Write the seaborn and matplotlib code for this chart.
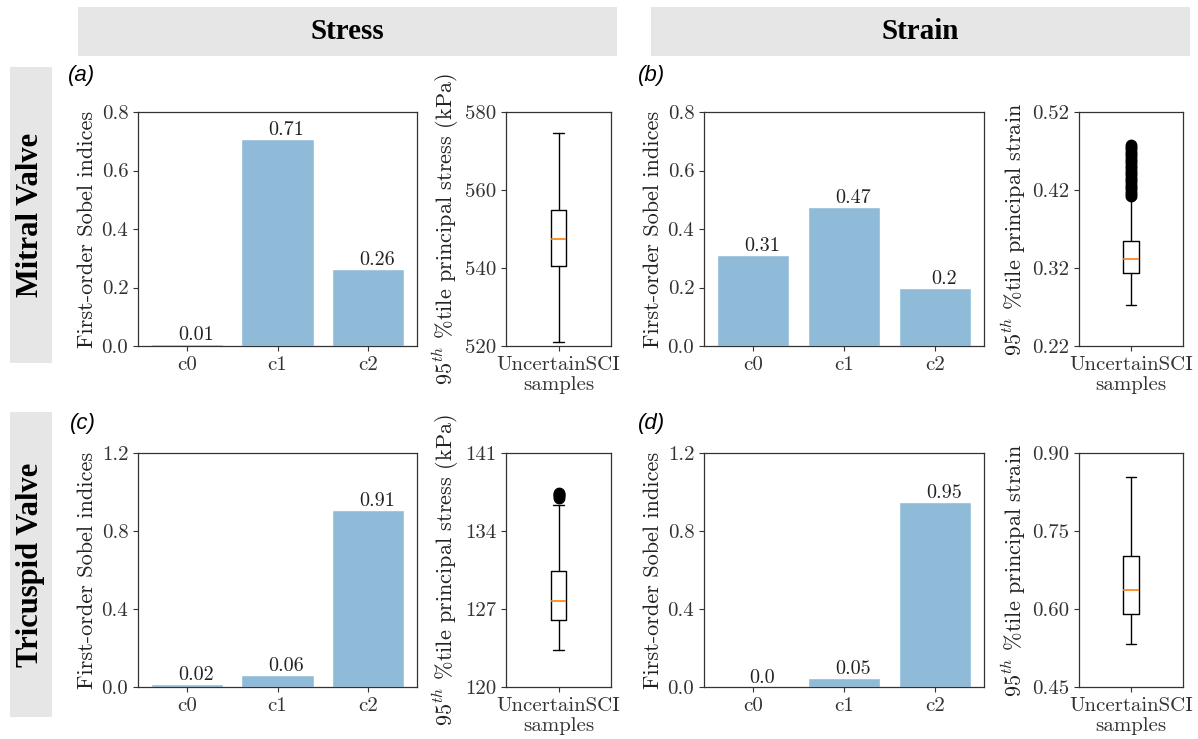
import matplotlib
matplotlib.use("Agg")
import matplotlib.pyplot as plt
import seaborn as sns
from matplotlib.patches import Rectangle
from matplotlib.ticker import FormatStrFormatter

# ---------------- data ----------------
components = ["c0", "c1", "c2"]
sobel_mitral_stress = [0.007, 0.706, 0.263]
sobel_mitral_strain = [0.311, 0.474, 0.198]
sobel_tricuspid_stress = [0.017, 0.061, 0.907]
sobel_tricuspid_strain = [0.001, 0.046, 0.951]

# box statistics: lower whisker, Q1, median, Q3, upper whisker
box_mitral_stress = [521.0, 540.5, 547.5, 555.0, 574.5]
box_mitral_strain = [0.272, 0.313, 0.332, 0.355, 0.410]
box_tricuspid_stress = [123.3, 126.0, 127.7, 130.4, 136.3]
box_tricuspid_strain = [0.533, 0.591, 0.637, 0.701, 0.854]

fliers_mitral_stress = []
fliers_mitral_strain = [0.412, 0.415, 0.418, 0.421, 0.424, 0.427, 0.430, 0.433,
                        0.436, 0.439, 0.442, 0.445, 0.448, 0.451, 0.454, 0.457,
                        0.460, 0.463, 0.466, 0.469, 0.472, 0.475, 0.478]
fliers_tricuspid_stress = [137.0, 137.1, 137.2, 137.3, 137.4]
fliers_tricuspid_strain = []

bar_yticks_row1 = [0.0, 0.2, 0.4, 0.6, 0.8]
bar_yticks_row2 = [0.0, 0.4, 0.8, 1.2]
yt_mitral_stress = [520, 540, 560, 580]
yt_mitral_strain = [0.22, 0.32, 0.42, 0.52]
yt_tricuspid_stress = [120, 127, 134, 141]
yt_tricuspid_strain = [0.45, 0.60, 0.75, 0.90]

col_titles = ["Stress", "Strain"]
row_titles = ["Mitral Valve", "Tricuspid Valve"]
panel_letters = ["a", "b", "c", "d"]
box_xlabel = "UncertainSCI\nsamples"
stress_label = r"$95^{th}$ %tile principal stress (kPa)"
strain_label = r"$95^{th}$ %tile principal strain"
bar_ylabel = "First-order Sobel indices"

# ---------------- style ----------------
sns.set_style("ticks")
plt.rcParams["font.family"] = ["cmr10", "DejaVu Serif"]
plt.rcParams["mathtext.fontset"] = "cm"
plt.rcParams["axes.formatter.use_mathtext"] = True
plt.rcParams["axes.edgecolor"] = "#333333"
plt.rcParams["axes.linewidth"] = 0.9
plt.rcParams["xtick.color"] = "#333333"
plt.rcParams["ytick.color"] = "#333333"
plt.rcParams["text.color"] = "#222222"
plt.rcParams["axes.labelcolor"] = "#222222"

W, H = 1198, 739
fig = plt.figure(figsize=(W / 100, H / 100), dpi=100)
fig.patch.set_facecolor("white")

def fx(px):
    return px / W

def fy(py):
    return 1 - py / H

BAR_COLOR = "#8fbbd9"
TICK_FS = 15
LAB_FS = 16

def rect_axes(x0, y0, x1, y1):
    return fig.add_axes([fx(x0), fy(y1), fx(x1) - fx(x0), fy(y0) - fy(y1)])

def bar_panel(ax, values, yticks):
    sns.barplot(x=components, y=values, color=BAR_COLOR, saturation=1,
                width=0.8, ax=ax)
    for i, v in enumerate(values):
        ax.text(i + 0.1, v, str(round(v, 2)), ha="center", va="bottom",
                fontsize=14.5)
    ax.set_xlim(-0.54, 2.54)
    ax.set_ylim(yticks[0], yticks[-1])
    ax.set_yticks(yticks)
    ax.yaxis.set_major_formatter(FormatStrFormatter("%.1f"))
    ax.set_ylabel(bar_ylabel, fontsize=LAB_FS, labelpad=3)
    ax.tick_params(labelsize=TICK_FS)
    for s in ax.spines.values():
        s.set_visible(True)

def box_panel(ax, stats5, fliers, yticks, ylabel, fmt):
    st = dict(whislo=stats5[0], q1=stats5[1], med=stats5[2], q3=stats5[3],
              whishi=stats5[4], fliers=fliers, label=box_xlabel)
    ax.bxp([st], positions=[1], widths=0.15, capwidths=0.1,
           boxprops=dict(color="black", linewidth=1),
           whiskerprops=dict(color="black", linewidth=1),
           capprops=dict(color="black", linewidth=1),
           medianprops=dict(color="#ff7f0e", linewidth=1.2),
           flierprops=dict(marker="o", markerfacecolor="black",
                           markeredgecolor="black", markersize=7.5))
    ax.set_xlim(0.5, 1.5)
    ax.set_ylim(yticks[0], yticks[-1])
    ax.set_yticks(yticks)
    ax.yaxis.set_major_formatter(FormatStrFormatter(fmt))
    ax.set_ylabel(ylabel, fontsize=LAB_FS, labelpad=3)
    ax.tick_params(labelsize=TICK_FS)
    for s in ax.spines.values():
        s.set_visible(True)

# axes positions (pixels)
rows_y = [(112, 346), (453, 687)]
bar_x = [(138, 417), (704, 984)]
box_x = [(506, 611), (1079, 1183)]

sobel = [[sobel_mitral_stress, sobel_mitral_strain],
         [sobel_tricuspid_stress, sobel_tricuspid_strain]]
bar_ticks = [bar_yticks_row1, bar_yticks_row2]
boxes = [[box_mitral_stress, box_mitral_strain],
         [box_tricuspid_stress, box_tricuspid_strain]]
fliers = [[fliers_mitral_stress, fliers_mitral_strain],
          [fliers_tricuspid_stress, fliers_tricuspid_strain]]
box_ticks = [[yt_mitral_stress, yt_mitral_strain],
             [yt_tricuspid_stress, yt_tricuspid_strain]]
box_labels = [stress_label, strain_label]
box_fmt = ["%d", "%.2f"]

for r in range(2):
    y0, y1 = rows_y[r]
    for c in range(2):
        axb = rect_axes(bar_x[c][0], y0, bar_x[c][1], y1)
        bar_panel(axb, sobel[r][c], bar_ticks[r])
        axx = rect_axes(box_x[c][0], y0, box_x[c][1], y1)
        box_panel(axx, boxes[r][c], fliers[r][c], box_ticks[r][c],
                  box_labels[c], box_fmt[c])

# column headers
hdr_x = [(78, 617), (651, 1190)]
for c in range(2):
    x0, x1 = hdr_x[c]
    fig.patches.append(Rectangle((fx(x0), fy(56)), fx(x1) - fx(x0), fy(7) - fy(56),
                                 transform=fig.transFigure, facecolor="#e6e6e6",
                                 edgecolor="none", zorder=0))
    fig.text(fx((x0 + x1) / 2), fy(31.5), col_titles[c], ha="center", va="center",
             fontsize=21, fontweight="bold", family="Liberation Serif",
             color="black")

# row headers
rhdr_y = [(67, 363), (412, 717)]
for r in range(2):
    y0, y1 = rhdr_y[r]
    fig.patches.append(Rectangle((fx(10), fy(y1)), fx(52) - fx(10), fy(y0) - fy(y1),
                                 transform=fig.transFigure, facecolor="#e6e6e6",
                                 edgecolor="none", zorder=0))
    fig.text(fx(31), fy((y0 + y1) / 2), row_titles[r], ha="center", va="center",
             rotation=90, fontsize=22, fontweight="bold",
             family="Liberation Serif", color="black")

# panel letters
letter_pos = [(68, 76), (638, 76), (70, 424), (638, 424)]
for (px, py), L in zip(letter_pos, panel_letters):
    fig.text(fx(px), fy(py), "(" + L + ")", ha="left", va="center",
             fontsize=16, fontstyle="italic", family="Liberation Sans",
             color="black")

fig.savefig("out.png", dpi=100)
